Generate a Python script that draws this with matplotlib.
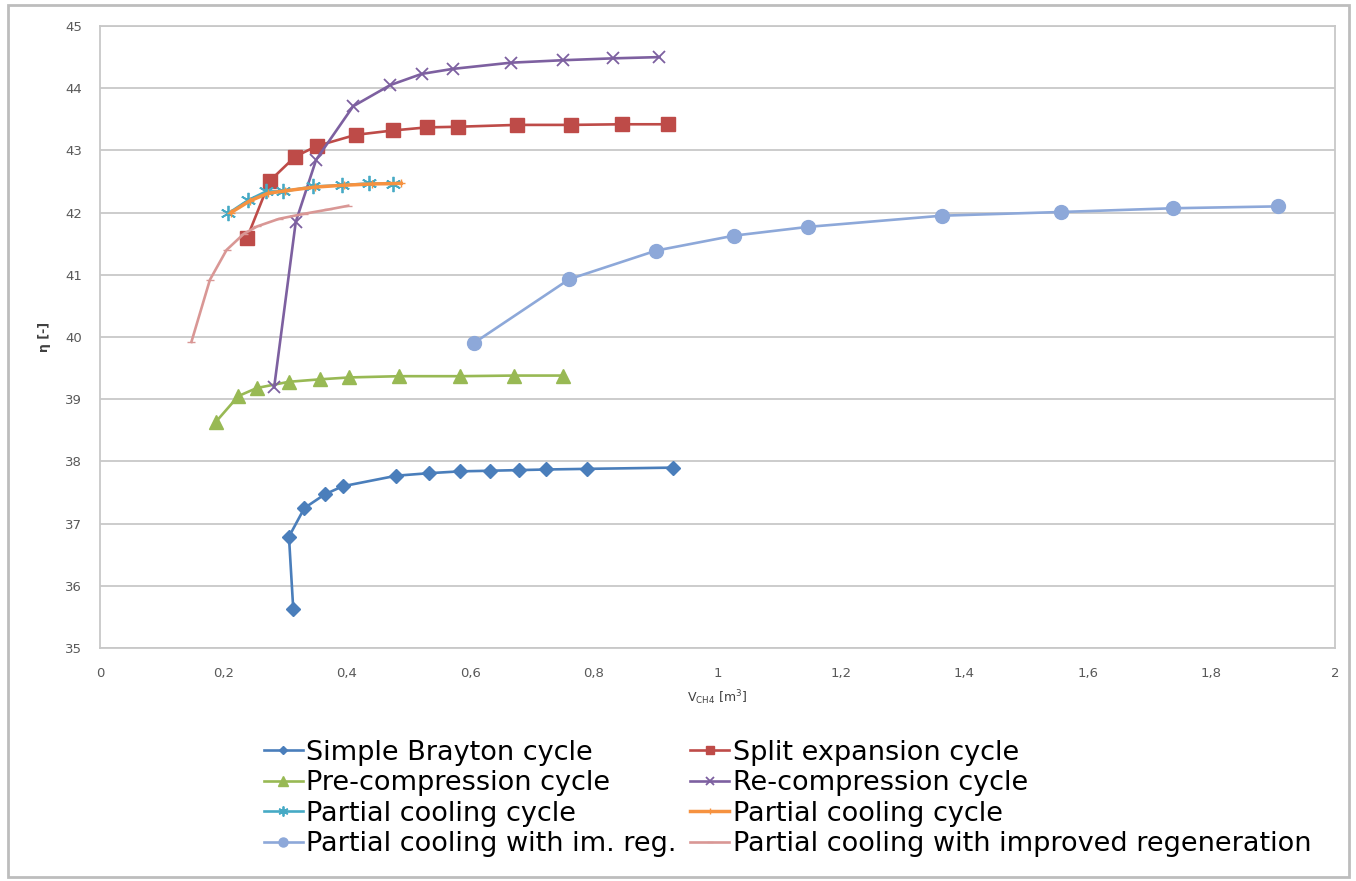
import matplotlib
matplotlib.use("Agg")
import matplotlib.pyplot as plt
from matplotlib.patches import Rectangle
from matplotlib.ticker import FuncFormatter

# datos (V_CH4 [m3], eta [-])
brayton_x = [0.313, 0.306, 0.331, 0.364, 0.393, 0.480, 0.532, 0.583, 0.632, 0.678, 0.723, 0.788, 0.928]
brayton_y = [35.62, 36.79, 37.25, 37.47, 37.60, 37.77, 37.81, 37.84, 37.85, 37.86, 37.87, 37.88, 37.90]

split_x = [0.238, 0.275, 0.316, 0.351, 0.414, 0.474, 0.529, 0.579, 0.675, 0.762, 0.845, 0.920]
split_y = [41.59, 42.51, 42.90, 43.07, 43.25, 43.32, 43.37, 43.38, 43.41, 43.41, 43.42, 43.42]

precomp_x = [0.188, 0.224, 0.254, 0.306, 0.357, 0.404, 0.485, 0.583, 0.670, 0.749]
precomp_y = [38.64, 39.05, 39.18, 39.28, 39.32, 39.35, 39.37, 39.37, 39.38, 39.38]

recomp_x = [0.282, 0.317, 0.350, 0.410, 0.470, 0.521, 0.571, 0.665, 0.750, 0.831, 0.906]
recomp_y = [39.19, 41.85, 42.85, 43.71, 44.05, 44.23, 44.31, 44.41, 44.45, 44.48, 44.50]

pcool_x = [0.208, 0.240, 0.269, 0.297, 0.345, 0.392, 0.436, 0.475]
pcool_y = [41.99, 42.20, 42.34, 42.34, 42.42, 42.44, 42.47, 42.46]

pcool2_x = [0.212, 0.243, 0.272, 0.300, 0.348, 0.395, 0.440, 0.488]
pcool2_y = [42.00, 42.19, 42.31, 42.35, 42.41, 42.44, 42.46, 42.47]

imreg_x = [0.605, 0.760, 0.901, 1.027, 1.146, 1.363, 1.557, 1.738, 1.907]
imreg_y = [39.90, 40.93, 41.39, 41.63, 41.77, 41.95, 42.01, 42.07, 42.10]

improved_x = [0.148, 0.178, 0.205, 0.233, 0.255, 0.290, 0.330, 0.370, 0.402]
improved_y = [39.92, 40.92, 41.40, 41.66, 41.78, 41.90, 41.98, 42.05, 42.11]

fig = plt.figure(figsize=(13.56, 8.81), dpi=100)
fig.patch.set_facecolor("white")
# marco gris del area del grafico (estilo excel)
fig.patches.append(Rectangle((8 / 1356, 4 / 881), 1341 / 1356, 872 / 881, transform=fig.transFigure,
                             fill=False, edgecolor="#bdbdbd", linewidth=2.0))

ax = fig.add_axes([100 / 1356, 1 - 648 / 881, 1235 / 1356, 622 / 881])

lw = 1.9
h1, = ax.plot(brayton_x, brayton_y, color="#4A7EBB", lw=lw, marker="D", ms=7, label="Simple Brayton cycle")
h2, = ax.plot(split_x, split_y, color="#BE4B48", lw=lw, marker="s", ms=9.5, label="Split expansion cycle")
h3, = ax.plot(precomp_x, precomp_y, color="#98B954", lw=lw, marker="^", ms=10, label="Pre-compression cycle")
h4, = ax.plot(recomp_x, recomp_y, color="#7D60A0", lw=lw, marker="x", ms=9, mew=1.3, label="Re-compression cycle")
h5, = ax.plot(pcool_x, pcool_y, color="#46AAC5", lw=lw, marker=(6, 2, 0), ms=11, mew=1.3, label="Partial cooling cycle")
h6, = ax.plot(pcool2_x, pcool2_y, color="#F69240", lw=lw + 0.6, marker="+", ms=6, label="Partial cooling cycle")
h7, = ax.plot(imreg_x, imreg_y, color="#8DA8D9", lw=lw, marker="o", ms=10, label="Partial cooling with im. reg.")
h8, = ax.plot(improved_x, improved_y, color="#D99795", lw=lw, marker="_", ms=6, label="Partial cooling with improved regeneration")

ax.set_xlim(0, 2)
ax.set_ylim(35, 45)
ax.set_xticks([i * 0.2 for i in range(11)])
ax.set_yticks(range(35, 46))
ax.xaxis.set_major_formatter(FuncFormatter(lambda v, p: ("%g" % round(v, 1)).replace(".", ",")))
ax.tick_params(length=0, labelsize=9.5, colors="#595959")
ax.tick_params(axis="x", pad=14)
ax.tick_params(axis="y", pad=13)
ax.grid(axis="y", color="#c8c8c8", lw=1.3)
ax.set_axisbelow(True)
for s in ax.spines.values():
    s.set_color("#c8c8c8")
    s.set_linewidth(1.3)

ax.set_xlabel(r"V$_{\mathrm{CH4}}$ [m$^3$]", fontsize=9, color="#404040", labelpad=6)
ax.set_ylabel("η [-]", fontsize=9, color="#404040", fontweight="bold", labelpad=10)

# leyenda: orden por filas como en el original
handles = [h1, h3, h5, h7, h2, h4, h6, h8]
fig.legend(handles=handles, labels=[h.get_label() for h in handles], ncol=2,
           loc="upper left", bbox_to_anchor=(250 / 1356, 1 - 726 / 881), frameon=False,
           fontsize=19.5, handlelength=1.45, handletextpad=0.12, columnspacing=0.5,
           labelspacing=0.17, borderpad=0.0, markerscale=0.65)

fig.savefig("out.png", dpi=100)
